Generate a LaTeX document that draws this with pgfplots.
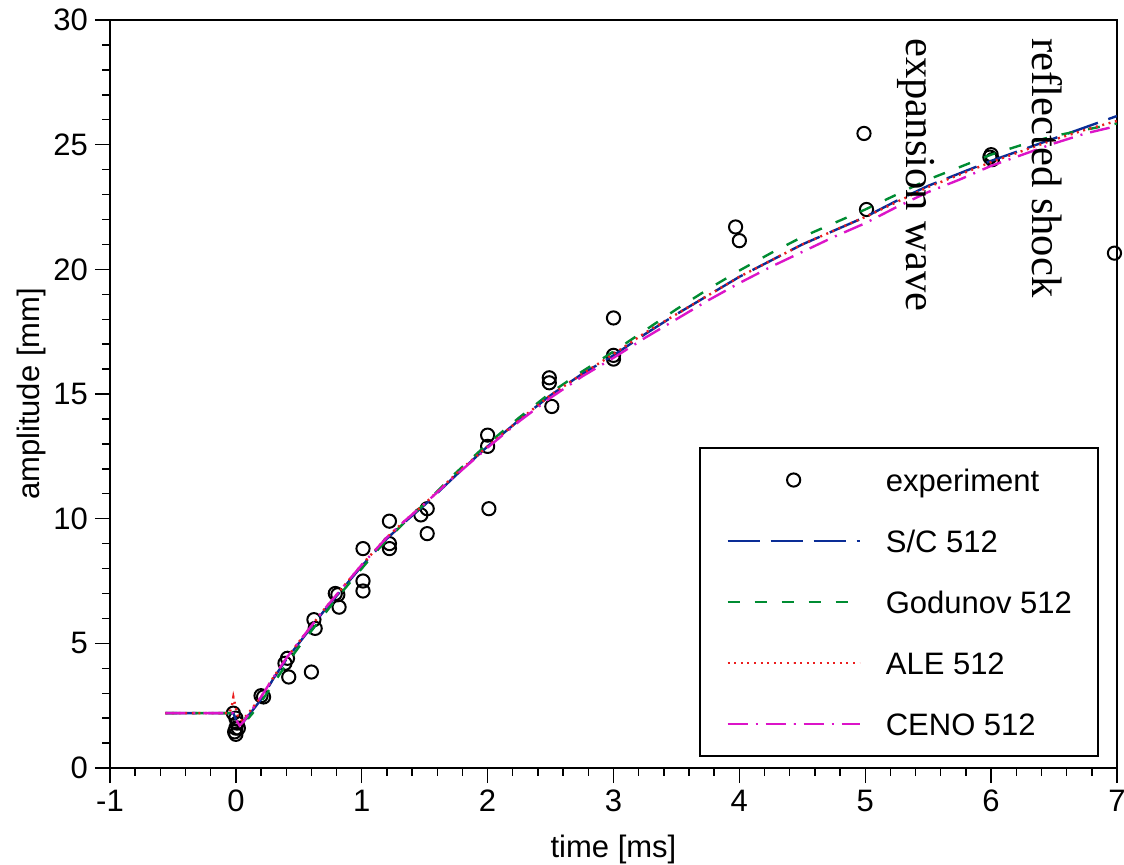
\documentclass[border=0pt]{standalone}
\usepackage{fontspec}
\setmainfont{Liberation Sans}
\newfontfamily\annfont{Liberation Serif}
\usepackage{pgfplots}
\pgfplotsset{compat=1.18}
\definecolor{scblue}{RGB}{10,45,150}
\definecolor{godgreen}{RGB}{0,140,50}
\definecolor{alered}{RGB}{235,30,30}
\definecolor{cenomag}{RGB}{220,20,200}
\begin{document}
\begin{tikzpicture}[font=\fontsize{15.5}{18.6}\selectfont]
\begin{axis}[
  at={(0,0)}, anchor=south west,
  scale only axis, width=503.5pt, height=374pt,
  xmin=-1, xmax=7, ymin=0, ymax=30,
  xtick={-1,0,...,7}, ytick={0,5,...,30},
  minor x tick num=4, minor y tick num=4,
  tick pos=left, tick align=outside,
  major tick length=7.5pt, minor tick length=3.8pt,
  every tick/.style={black, line width=0.7pt},
  axis line style={line width=1.3pt},
  /pgf/number format/assume math mode=true,
  every axis x label/.style={at={(axis description cs:0.5,0)}, yshift=-40.5pt, anchor=center},
  every axis y label/.style={at={(axis description cs:0,0.5)}, xshift=-39.5pt, rotate=90, anchor=center},
  xlabel={time [ms]}, ylabel={amplitude [mm]},
  clip mode=individual,
  legend image code/.code={\draw[mark repeat=2,mark phase=2,#1] plot coordinates {(0pt,0pt) (33pt,0pt) (66pt,0pt)};},
  legend style={at={(1,0)}, anchor=south east, xshift=-9pt, yshift=5.5pt,
    draw=black, line width=1pt, inner xsep=13pt, inner ysep=6.5pt,
    row sep=11.5pt, column sep=12.5pt,
    nodes={inner sep=0pt, text height=15pt, text depth=4pt},
    cells={anchor=west}},
]
\addplot[only marks, mark=o, mark size=3.3pt, mark options={black, line width=1pt, solid}] coordinates {
(-0.02,2.2) (0.0,2.0) (0.01,1.8) (0.0,1.6) (-0.01,1.45) (0.0,1.35) (0.02,1.6)
(0.2,2.9) (0.22,2.85)
(0.39,4.2) (0.41,4.4) (0.42,3.65)
(0.6,3.85) (0.62,5.95) (0.63,5.6)
(0.79,7.0) (0.81,6.95) (0.82,6.45)
(1.01,8.8) (1.01,7.5) (1.01,7.1)
(1.22,9.9) (1.22,9.0) (1.22,8.8)
(1.47,10.15) (1.52,10.4) (1.52,9.4)
(2.0,13.35) (2.0,12.9) (2.01,10.4)
(2.49,15.65) (2.49,15.45) (2.51,14.5)
(3.0,18.05) (3.0,16.55) (3.0,16.4)
(3.97,21.7) (4.0,21.15)
(4.99,25.45) (5.01,22.4)
(5.99,24.5) (6.01,24.4) (6.0,24.6)
(6.98,20.65)
};
\addlegendentry{experiment}
\addplot[scblue, line width=1.2pt, dash pattern=on 16pt off 5.5pt] coordinates {
(-0.56,2.2) (-0.02,2.2) (0.0,1.95) (0.03,1.75) (0.06,1.85) (0.1,2.1) (0.2,2.75) (0.3,3.6) (0.4,4.35) (0.5,5.0) (0.6,5.65) (0.7,6.3) (0.8,6.9) (0.9,7.5) (1.0,8.1) (1.1,8.65) (1.2,9.2) (1.35,9.9) (1.5,10.55) (1.75,11.75) (2.0,12.9) (2.25,13.95) (2.5,14.95) (2.75,15.8) (3.0,16.55) (3.25,17.4) (3.5,18.2) (3.75,18.95) (4.0,19.7) (4.25,20.35) (4.5,21.0) (4.75,21.55) (5.0,22.1) (5.25,22.75) (5.5,23.35) (5.75,23.85) (6.0,24.35) (6.25,24.8) (6.5,25.25) (6.75,25.7) (7.0,26.15)
};
\addlegendentry{S/C 512}
\addplot[godgreen, line width=1.2pt, dash pattern=on 6pt off 7.5pt] coordinates {
(-0.56,2.2) (0.02,2.2) (0.06,2.0) (0.1,2.0) (0.15,2.3) (0.2,2.65) (0.3,3.4) (0.4,4.15) (0.5,4.85) (0.6,5.5) (0.7,6.15) (0.8,6.8) (0.9,7.4) (1.0,8.0) (1.1,8.6) (1.2,9.15) (1.35,9.9) (1.5,10.6) (1.75,11.85) (2.0,13.0) (2.25,14.05) (2.5,15.05) (2.75,15.9) (3.0,16.7) (3.25,17.55) (3.5,18.4) (3.75,19.2) (4.0,19.95) (4.25,20.65) (4.5,21.3) (4.75,21.85) (5.0,22.4) (5.25,23.0) (5.5,23.6) (5.75,24.1) (6.0,24.6) (6.25,25.0) (6.5,25.35) (6.75,25.6) (7.0,25.85)
};
\addlegendentry{Godunov 512}
\addplot[alered, line width=1.2pt, dash pattern=on 1pt off 2.3pt] coordinates {
(-0.56,2.2) (-0.05,2.2) (-0.03,2.55) (-0.02,2.85) (0.0,2.4) (0.02,2.0) (0.05,1.9) (0.1,2.2) (0.2,2.85) (0.3,3.65) (0.4,4.4) (0.5,5.05) (0.6,5.7) (0.7,6.35) (0.8,6.95) (0.9,7.55) (1.0,8.15) (1.1,8.7) (1.2,9.25) (1.35,9.95) (1.5,10.6) (1.75,11.8) (2.0,12.9) (2.25,13.95) (2.5,14.95) (2.75,15.8) (3.0,16.6) (3.25,17.45) (3.5,18.2) (3.75,18.95) (4.0,19.7) (4.25,20.35) (4.5,21.0) (4.75,21.55) (5.0,22.1) (5.25,22.7) (5.5,23.3) (5.75,23.8) (6.0,24.3) (6.25,24.75) (6.5,25.2) (6.75,25.6) (7.0,25.95)
};
\addlegendentry{ALE 512}
\addplot[cenomag, line width=1.2pt, dash pattern=on 10pt off 4pt on 1pt off 4pt] coordinates {
(-0.56,2.2) (-0.02,2.2) (0.0,1.95) (0.03,1.7) (0.06,1.85) (0.1,2.15) (0.2,2.85) (0.3,3.65) (0.4,4.4) (0.5,5.05) (0.6,5.7) (0.7,6.35) (0.8,6.95) (0.9,7.55) (1.0,8.15) (1.1,8.7) (1.2,9.25) (1.35,9.95) (1.5,10.6) (1.75,11.75) (2.0,12.85) (2.25,13.9) (2.5,14.85) (2.75,15.7) (3.0,16.45) (3.25,17.25) (3.5,18.0) (3.75,18.75) (4.0,19.45) (4.25,20.1) (4.5,20.7) (4.75,21.3) (5.0,21.85) (5.25,22.5) (5.5,23.1) (5.75,23.6) (6.0,24.15) (6.25,24.6) (6.5,25.05) (6.75,25.45) (7.0,25.75)
};
\addlegendentry{CENO 512}
\node[rotate=-90, anchor=west, inner sep=0pt, font=\annfont\fontsize{21.3}{25}\selectfont] at (axis cs:5.40,29.28) {expansion wave};
\node[rotate=-90, anchor=west, inner sep=0pt, font=\annfont\fontsize{21.3}{25}\selectfont] at (axis cs:6.45,29.28) {reflected shock};
\end{axis}
\pgfresetboundingbox
\useasboundingbox (-55pt,-48pt) rectangle (507pt,384pt);
\end{tikzpicture}
\end{document}
